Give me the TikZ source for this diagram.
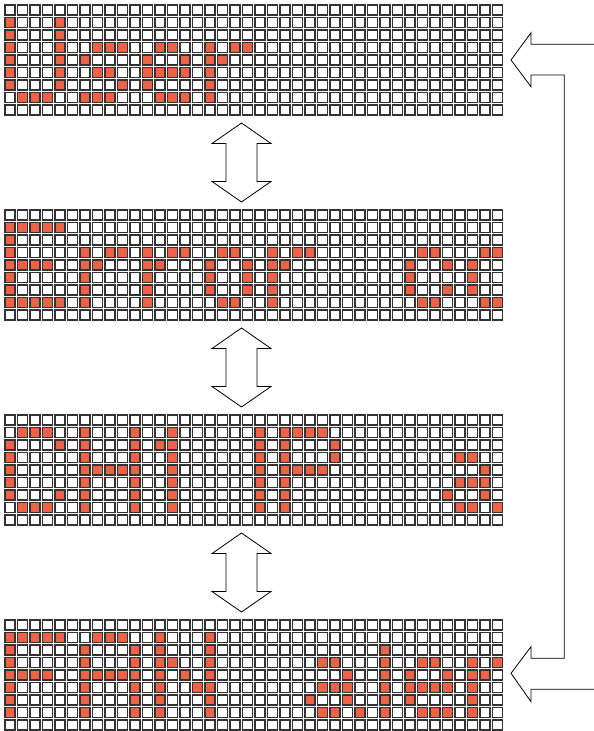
\documentclass[tikz,border=0pt]{standalone}
\definecolor{ledred}{RGB}{238,98,72}
\tikzset{
  cell/.style={draw=black!80, line width=1.2pt, fill=white},
  litcell/.style={cell, fill=ledred},
  hollowarrow/.style={draw=black, line width=0.8pt, fill=white, line join=miter},
}
% one panel of 40 x 9 cells, #1 = top offset, #2 = row/{lit columns}
\newcommand{\ledpanel}[2]{%
  \foreach \c in {0,...,39}
    \foreach \r in {0,...,8}
      \path[cell] ({12.5*\c+5},{#1+12.5*\r+5}) rectangle +(10,10);
  \foreach \r/\cols in {#2}
    \foreach \c in \cols
      \path[litcell] ({12.5*\c+5},{#1+12.5*\r+5}) rectangle +(10,10);
}
\begin{document}
\begin{tikzpicture}[x=1pt, y=-1pt]
  \useasboundingbox (0,0) rectangle (594,731);
  % Panels
  \ledpanel{0}{1/{0,4}, 2/{0,4}, 3/{0,4,7,8,9,12,13,16,18,19},
    4/{0,4,6,11,14,16,17}, 5/{0,4,7,8,11,12,13,14,16},
    6/{0,4,9,11,16}, 7/{1,2,3,6,7,8,12,13,14,16}}
  \ledpanel{205}{1/{0,1,2,3,4}, 2/{0},
    3/{0,6,8,9,11,13,14,17,18,21,23,24,33,34,38,39},
    4/{0,1,2,3,6,7,11,12,16,19,21,22,32,35,37},
    5/{0,6,11,16,19,21,32,37}, 6/{0,6,11,16,19,21,32,35,37},
    7/{0,1,2,3,4,6,11,17,18,21,33,34,38,39}}
  \ledpanel{410}{1/{1,2,3,6,10,13,20,22,23,24,25},
    2/{0,4,6,10,12,13,20,22,26}, 3/{0,6,10,13,20,22,26,36,37},
    4/{0,6,7,8,9,10,13,20,22,23,24,25,38}, 5/{0,6,10,13,20,22,36,37,38},
    6/{0,4,6,10,13,20,22,35,38}, 7/{1,2,3,6,10,13,20,22,36,37,39}}
  \ledpanel{615}{1/{0,1,2,3,4,7,8,9,12,16}, 2/{0,6,10,12,16,30},
    3/{0,6,10,12,13,16,25,26,30,33,34,37,39},
    4/{0,1,2,3,6,7,8,9,10,12,14,16,27,30,32,35,37,38},
    5/{0,6,10,12,15,16,25,26,27,30,32,33,34,35,37},
    6/{0,6,10,12,16,24,27,30,32,37}, 7/{0,6,10,12,16,25,26,28,30,33,34,35,37}}
  % Double arrows between panels
  \foreach \cy in {162.5,367.5,572.5}
    \draw[hollowarrow] (241.5,\cy-39.5) -- (271,\cy-19) -- (257,\cy-19)
      -- (257,\cy+19) -- (271,\cy+19) -- (241.5,\cy+39.5) -- (212,\cy+19)
      -- (226,\cy+19) -- (226,\cy-19) -- (212,\cy-19) -- cycle;
  % Return arrow on the right
  \draw[hollowarrow] (594,44.3) -- (531,44.3) -- (531,32.7) -- (511,60)
    -- (531,86.7) -- (531,75) -- (564.3,75) -- (564.3,658.3) -- (531,658.3)
    -- (531,646.7) -- (511,673.3) -- (531,701.7) -- (531,689.3) -- (594,689.3);
\end{tikzpicture}
\end{document}
